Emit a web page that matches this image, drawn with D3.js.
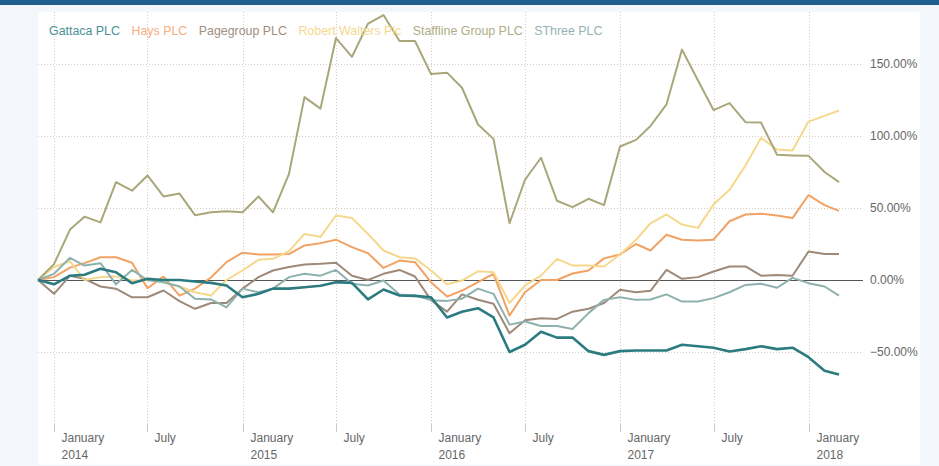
<!DOCTYPE html>
<html>
<head>
<meta charset="utf-8">
<script src="https://cdn.jsdelivr.net/npm/d3@7"></script>
<style>
  body { margin: 0; background: #f3f7fb; font-family: "Liberation Sans", Arial, sans-serif; }
  #chart { position: absolute; left: 0; top: 0; }
</style>
</head>
<body>
<div id="chart"></div>
<script>
const names = ["Gattaca PLC", "Hays PLC", "Pagegroup PLC", "Robert Walters Plc", "Staffline Group PLC", "SThree PLC"];
const lineColors = ["#2b7b80", "#f2a264", "#9e8a7a", "#f5d88c", "#a9a77a", "#8fb1ae"];
const textColors = ["#4b9196", "#f5ae7c", "#a08e80", "#f4d890", "#aeac86", "#95b3b2"];

// monthly, Dec 2013 .. Mar 2018 (% change)
const gattaca = [0,
  -3, 3, 3.6, 7.8, 5.4, -2.2, 0.8, 0, 0, -1, -2, -3.8,
  -12, -9.6, -6, -6, -5, -4, -1.5, -2, -13.5, -6.6, -10.8, -11,
  -12, -26, -22, -19.6, -26, -50, -45, -36, -40, -40, -49.4, -52,
  -49.4, -49, -49, -49, -45, -46, -47, -49.7, -48, -46, -48, -47,
  -53.6, -63, -65.7];
const hays = [0,
  2, 8.6, 11.7, 15.8, 15.8, 12, -5.7, 2.4, -10.8, -6, 1.7, 12.4,
  19, 17.7, 17.7, 18, 24, 25.6, 28, 22.8, 18.6, 8.4, 13.5, 12.4,
  -1.5, -11.5, -7.3, -1.5, 4.3, -24.7, -8.5, 0, 0, 4.5, 6.6, 15,
  17.7, 25, 20.5, 31.4, 28, 27.4, 28, 40.8, 45.5, 46, 44.8, 43,
  59, 52, 48];
const pagegroup = [0,
  -9.6, 3, 0.8, -4.5, -6, -12, -12, -7.3, -14.7, -20, -16, -16,
  -6, 2, 6.6, 9, 10.8, 11.2, 12, 3, 0, 4.3, 7, 2.4,
  -14, -22, -10, -13.7, -16.5, -37, -28, -26.5, -27, -22, -20, -16,
  -6.8, -8.5, -7.5, 7, 0.8, 2, 5.9, 9.4, 9.4, 3, 3.5, 3,
  19.8, 18, 18];
const robertWalters = [0,
  9, 13, 0, 2, 2.5, -0.4, 0, -1.5, -4.5, -8.5, -10.8, 0,
  6.6, 14, 14.7, 20, 32, 30, 44.8, 43, 32, 20.5, 15.8, 15,
  6.6, -3, -0.4, 6, 5.4, -16, -3.8, 3, 14.7, 10, 10, 9.4,
  17.7, 27.9, 39.4, 45.5, 38.5, 36.2, 52.4, 62.6, 79.5, 98.7, 90.6, 90,
  110, 114, 117.7];
const staffline = [0,
  11, 35, 44, 40, 68, 62, 72.6, 58, 60, 45, 47, 47.8,
  47, 58, 47, 73.7, 127, 119, 168, 155, 178, 184, 166, 166,
  143, 144, 133.5, 108, 98, 39.4, 69.6, 84.9, 55, 50.6, 56.4, 52,
  92.7, 97.3, 107, 122, 160, 138.5, 118, 122.8, 109.6, 109.4, 87, 86.5,
  86.2, 75, 68];
const sthree = [0,
  4.3, 15.4, 10, 11.7, -3, 7, 0, -1.5, -4.5, -13, -13.5, -19,
  -6, -8.5, -6, 2, 4.3, 3, 7, -2.6, -3.8, -0.4, -10, -10.8,
  -14, -14.5, -13, -6, -9.6, -31, -28.8, -32, -32, -34, -23, -13.8,
  -12, -13.8, -13.5, -10, -15, -15, -12.6, -8.5, -3.4, -2.6, -5.4, 1.5,
  -2.2, -4.5, -10.8];
const seriesValues = [gattaca, hays, pagegroup, robertWalters, staffline, sthree];
const yTicks = [-50, 0, 50, 100, 150];
const xTicks = ["2014-01", "2014-07", "2015-01", "2015-07", "2016-01", "2016-07", "2017-01", "2017-07", "2018-01"];

const months = d3.timeMonth.range(new Date(2013, 11, 1), new Date(2018, 3, 1));

const w = 939, h = 466;
const svg = d3.select("#chart").append("svg").attr("width", w).attr("height", h);

// page chrome
svg.append("rect").attr("x", 0).attr("y", 0).attr("width", w).attr("height", 5).attr("fill", "#1f5f8e");
svg.append("rect").attr("x", 38).attr("y", 12).attr("width", 882).attr("height", 453).attr("fill", "#fff");

const x = d3.scaleTime().domain([months[0], months[months.length - 1]]).range([38, 839]);
const y = d3.scaleLinear().domain([-50, 150]).range([352, 64]);
const parse = d3.timeParse("%Y-%m");

// horizontal grid
svg.append("g").selectAll("line").data(yTicks.filter(d => d !== 0)).enter().append("line")
  .attr("x1", 38).attr("x2", 862)
  .attr("y1", d => Math.round(y(d)) + 0.5).attr("y2", d => Math.round(y(d)) + 0.5)
  .attr("stroke", "#d6ccbc").attr("stroke-dasharray", "1,2");

// vertical grid + ticks
const xg = svg.append("g").selectAll("g").data(xTicks.map(parse)).enter().append("g")
  .attr("transform", d => "translate(" + (Math.round(x(d)) + 0.5) + ",0)");
xg.append("line").attr("y1", 12).attr("y2", 424)
  .attr("stroke", "#d6ccbc").attr("stroke-dasharray", "1,2");
xg.append("line").attr("y1", 424).attr("y2", 432).attr("stroke", "#cfc8bd");
xg.append("text").attr("x", 7).attr("y", 442)
  .attr("font-size", 12).attr("fill", "#666")
  .text(d => d.getMonth() === 0 ? "January" : "July");
xg.filter(d => d.getMonth() === 0).append("text").attr("x", 7).attr("y", 459)
  .attr("font-size", 12).attr("fill", "#666")
  .text(d => d.getFullYear());

// y labels
svg.append("g").selectAll("text").data(yTicks).enter().append("text")
  .attr("x", 870).attr("y", d => y(d) + 4)
  .attr("font-size", 12).attr("fill", "#666")
  .text(d => d3.format(".2f")(d) + "%");

// zero line
svg.append("line").attr("x1", 38).attr("x2", 863)
  .attr("y1", Math.round(y(0)) + 0.5).attr("y2", Math.round(y(0)) + 0.5)
  .attr("stroke", "#555").attr("stroke-width", 1);

// lines
const line = d3.line().x((d, i) => x(months[i])).y(d => y(d));
const order = [1, 2, 3, 4, 5, 0];
svg.append("g").selectAll("path").data(order).enter().append("path")
  .attr("d", i => line(seriesValues[i]))
  .attr("fill", "none")
  .attr("stroke", i => lineColors[i])
  .attr("stroke-width", i => i === 0 ? 2.6 : 2)
  .attr("stroke-linejoin", "round");

// legend
const legend = svg.append("g");
let lx = 49;
names.forEach((n, i) => {
  const t = legend.append("text").attr("x", lx).attr("y", 34.5)
    .attr("font-size", 12.4).attr("fill", textColors[i]).text(n);
  lx += t.node().getComputedTextLength() + 11.5;
});
</script>
</body>
</html>
